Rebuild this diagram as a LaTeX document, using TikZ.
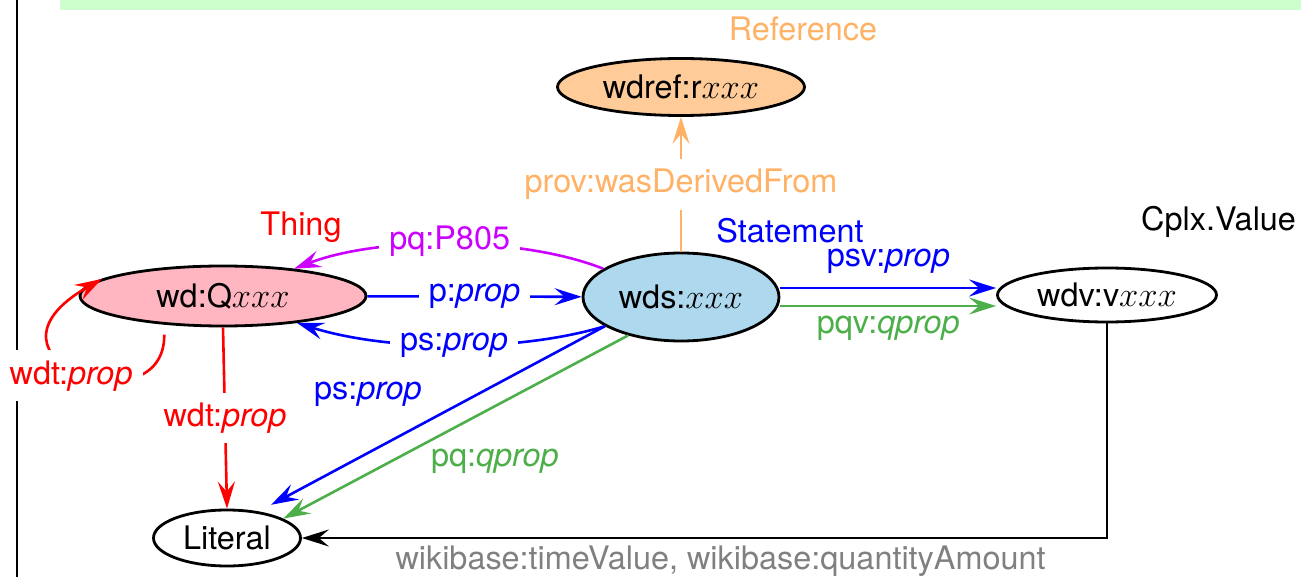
\documentclass[tikz,border=0pt]{standalone}
\usepackage{fontspec}
\setmainfont{TeX Gyre Heros}
\usetikzlibrary{arrows.meta,shapes.geometric}
\definecolor{pinkQ}{RGB}{255,182,193}
\definecolor{blueS}{RGB}{173,216,238}
\definecolor{orangeF}{RGB}{255,204,153}
\definecolor{orangeT}{RGB}{255,178,102}
\definecolor{greenE}{RGB}{77,175,74}
\definecolor{magE}{RGB}{204,0,255}
\definecolor{grayT}{RGB}{128,128,128}
\definecolor{barG}{RGB}{204,255,204}
\begin{document}
\begin{tikzpicture}[x=0.5pt,y=-0.5pt,
  every node/.style={font=\fontsize{16.2}{19}\selectfont},
  ent/.style={ellipse, draw=black, line width=1.4pt, inner sep=0pt},
  lbl/.style={fill=white, inner sep=5pt},
  edge/.style={line width=1.3pt, -{Stealth[length=13.5pt,width=8.5pt,inset=5pt]}},
]
\useasboundingbox (0,0) rectangle (1301,577);
\fill[barG] (60,0) rectangle (1301,10);
\draw[line width=1pt] (17,0) -- (17,577);

\node[ent, fill=pinkQ, minimum width=143pt, minimum height=30pt] (Q) at (223,296) {wd:Q$xxx$};
\node[ent, fill=blueS, minimum width=98pt, minimum height=44pt] (wds) at (681,297) {wds:$xxx$};
\node[ent, fill=orangeF, minimum width=123.5pt, minimum height=28.5pt] (ref) at (681,87) {wdref:r$xxx$};
\node[ent, fill=white, minimum width=109.5pt, minimum height=27pt] (wdv) at (1107,295) {wdv:v$xxx$};
\node[ent, fill=white, minimum width=73.5pt, minimum height=28pt] (Lit) at (227,538) {Literal};

\node[text=orangeT] (tref) at (803,29) {Reference};
\node[text=blue] (tstat) at (790,231) {Statement};
\node[anchor=east] (tcplx) at (1303,222) {Cplx.Value};
\node[text=red] (tthing) at (301,227) {Thing};

% wd:Q -> wds
\draw[edge, blue] (Q) -- node[lbl]{p:\textit{prop}} (wds);
% wds -> wd:Q (ps:prop)
\draw[edge, blue] (wds.201) .. controls (520,352) and (390,352) .. (Q.-20)
  node[lbl, pos=.5]{ps:\textit{prop}};
% pq:P805
\draw[edge, magE] (wds.160) .. controls (520,236) and (380,236) .. (Q.21)
  node[lbl, pos=.5, yshift=1.5pt]{pq:P805};
% prov
\draw[edge, orangeT] (wds.north) -- node[lbl]{prov:wasDerivedFrom} (ref.south);
% psv / pqv
\coordinate (a1) at ([yshift=4.5pt]wds.east);
\coordinate (a2) at ([yshift=-4.5pt]wds.east);
\draw[edge, blue] (a1) -- node[yshift=13.5pt]{psv:\textit{prop}} (a1 -| wdv.west);
\draw[edge, greenE] (a2) -- node[yshift=-11pt]{pqv:\textit{qprop}} (a2 -| wdv.west);
% wds -> Literal
\draw[edge, blue, shorten >=7pt] (wds.201) -- node[pos=.65, xshift=-6pt, yshift=26pt]{ps:\textit{prop}} (Lit.40);
\draw[edge, greenE] (wds.216) -- node[pos=.43, xshift=7.5pt, yshift=-23.5pt]{pq:\textit{qprop}} (Lit.19);
% wd:Q -> Literal
\draw[edge, red] (Q.south) -- node[lbl]{wdt:\textit{prop}} (Lit.north);
% loop
\draw[edge, red, shorten <=5pt] (Q.206) .. controls (165,430) and (-40,360) .. (Q.172)
  node[lbl, pos=.5, xshift=-4.5pt, yshift=-2pt]{wdt:\textit{prop}};
% wdv -> Literal
\draw[edge, black] (wdv.south) |- node[pos=.74, yshift=-11.5pt, text=grayT]{wikibase:timeValue, wikibase:quantityAmount} (Lit.east);
\end{tikzpicture}
\end{document}
